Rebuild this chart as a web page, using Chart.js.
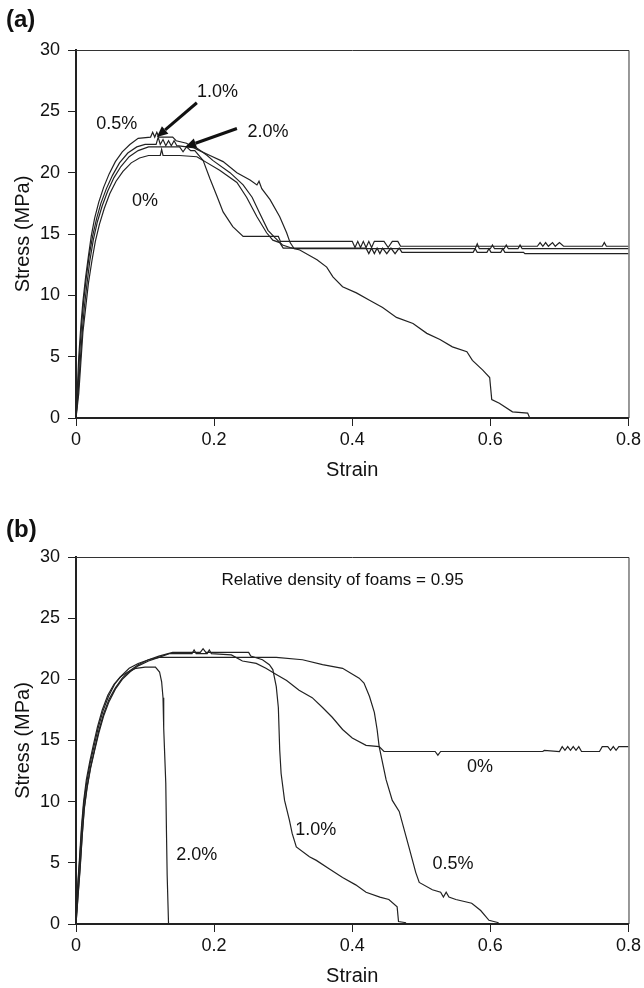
<!DOCTYPE html>
<html>
<head>
<meta charset="utf-8">
<script src="https://cdn.jsdelivr.net/npm/chart.js@4.4.1/dist/chart.umd.min.js"></script>
<style>
  html, body { margin: 0; padding: 0; background: #fff; }
  #page { position: relative; width: 644px; height: 988px; font-family: Arial, 'Liberation Sans', sans-serif; }
  .panel { position: absolute; left: 0; width: 644px; height: 494px; }
  .tag { position: absolute; left: 6px; font-weight: bold; font-size: 24px; line-height: 1; color: #111; }
</style>
</head>
<body>
<div id="page">
  <div class="panel" style="top:0"><canvas id="chartA"></canvas></div>
  <div class="panel" style="top:494px"><canvas id="chartB"></canvas></div>
  <div class="tag" style="top:7px">(a)</div>
  <div class="tag" style="top:517px">(b)</div>
</div>
<script>
// ===== DATA =====
const xTicks = [0, 0.2, 0.4, 0.6, 0.8];
const yTicks = [0, 5, 10, 15, 20, 25, 30];

// (a) [strain, stress MPa]
const a0 = [[0,0],[0.004,2.0],[0.007,4.5],[0.010,7.0],[0.014,9.0],[0.018,11.0],[0.023,12.8],[0.028,14.4],[0.034,15.8],[0.041,17.1],[0.049,18.3],[0.058,19.3],[0.068,20.1],[0.080,20.8],[0.092,21.2],[0.105,21.4],[0.122,21.4],[0.124,21.9],[0.126,21.4],[0.150,21.4],[0.175,21.3],[0.184,21.0],[0.194,19.5],[0.204,18.1],[0.213,16.8],[0.227,15.6],[0.242,14.8],[0.293,14.8],[0.296,14.4],[0.400,14.4],[0.404,13.9],[0.408,14.4],[0.412,13.9],[0.416,14.4],[0.420,13.9],[0.424,14.4],[0.428,13.9],[0.432,14.4],[0.446,14.4],[0.452,13.9],[0.458,14.4],[0.466,14.4],[0.470,14.0],[0.668,14.0],[0.672,14.3],[0.676,14.0],[0.680,14.3],[0.684,14.0],[0.690,14.3],[0.694,14.0],[0.700,14.3],[0.706,14.0],[0.762,14.0],[0.765,14.3],[0.768,14.0],[0.800,14.0]];
const a05 = [[0,0],[0.002,2.5],[0.004,5.0],[0.007,7.5],[0.010,9.5],[0.014,11.5],[0.018,13.2],[0.022,14.8],[0.027,16.3],[0.033,17.6],[0.040,18.8],[0.048,19.9],[0.057,20.9],[0.067,21.7],[0.078,22.3],[0.090,22.8],[0.108,22.9],[0.111,23.3],[0.114,22.9],[0.117,23.3],[0.120,22.9],[0.140,22.9],[0.145,22.6],[0.160,22.4],[0.175,21.9],[0.194,21.4],[0.213,20.9],[0.233,20.0],[0.252,19.4],[0.262,19.0],[0.265,19.3],[0.269,18.7],[0.281,17.8],[0.295,16.4],[0.305,15.1],[0.310,14.3],[0.316,13.8],[0.578,13.8],[0.581,14.2],[0.584,13.8],[0.600,13.8],[0.603,14.1],[0.606,13.8],[0.620,13.8],[0.623,14.1],[0.626,13.8],[0.640,13.8],[0.643,14.1],[0.646,13.8],[0.800,13.8]];
const a10 = [[0,0],[0.003,2.5],[0.005,5.0],[0.008,7.5],[0.011,9.5],[0.015,11.5],[0.019,13.2],[0.024,14.8],[0.030,16.3],[0.036,17.5],[0.044,18.7],[0.053,19.8],[0.063,20.8],[0.075,21.6],[0.088,22.1],[0.100,22.3],[0.116,22.3],[0.119,22.9],[0.122,22.3],[0.126,22.7],[0.130,22.2],[0.134,22.6],[0.138,22.2],[0.142,22.6],[0.146,22.2],[0.175,22.0],[0.190,21.4],[0.198,21.0],[0.223,20.0],[0.242,19.0],[0.255,18.0],[0.266,16.7],[0.278,15.3],[0.288,14.7],[0.299,14.1],[0.310,13.9],[0.324,13.7],[0.349,12.9],[0.363,12.3],[0.372,11.5],[0.386,10.7],[0.406,10.2],[0.425,9.6],[0.444,9.0],[0.464,8.2],[0.488,7.7],[0.508,6.9],[0.527,6.4],[0.545,5.8],[0.566,5.4],[0.574,4.7],[0.589,3.9],[0.599,3.3],[0.602,1.5],[0.613,1.2],[0.632,0.5],[0.654,0.4],[0.657,0]];
const a20 = [[0,0],[0.003,2.0],[0.006,4.5],[0.009,7.0],[0.012,9.0],[0.016,11.0],[0.020,12.8],[0.025,14.5],[0.031,16.0],[0.038,17.3],[0.046,18.5],[0.055,19.6],[0.065,20.5],[0.077,21.3],[0.090,21.8],[0.105,22.1],[0.150,22.1],[0.155,21.7],[0.160,22.1],[0.166,21.8],[0.172,21.8],[0.184,21.0],[0.208,20.2],[0.233,19.2],[0.247,18.0],[0.262,16.4],[0.276,15.1],[0.285,14.5],[0.295,14.3],[0.300,13.85],[0.420,13.85],[0.424,13.4],[0.428,13.85],[0.432,13.4],[0.436,13.85],[0.440,13.4],[0.444,13.85],[0.450,13.4],[0.456,13.85],[0.462,13.4],[0.468,13.85],[0.472,13.5],[0.575,13.5],[0.578,13.8],[0.581,13.5],[0.595,13.5],[0.598,13.8],[0.601,13.5],[0.615,13.5],[0.618,13.8],[0.621,13.5],[0.648,13.5],[0.650,13.4],[0.800,13.4]];

// (b) [strain, stress MPa]
const b0 = [[0,0],[0.003,2.3],[0.006,4.5],[0.009,7.2],[0.012,9.4],[0.016,11.1],[0.021,12.7],[0.027,14.2],[0.033,15.6],[0.040,17.0],[0.048,18.2],[0.057,19.2],[0.067,20.0],[0.078,20.6],[0.090,21.1],[0.105,21.5],[0.120,21.8],[0.135,22.1],[0.168,22.1],[0.171,22.4],[0.174,22.1],[0.190,22.1],[0.193,22.4],[0.196,22.1],[0.225,22.0],[0.241,21.5],[0.261,21.3],[0.275,20.9],[0.290,20.4],[0.305,19.9],[0.323,19.1],[0.342,18.5],[0.357,17.7],[0.371,16.9],[0.386,15.9],[0.400,15.2],[0.420,14.6],[0.439,14.5],[0.446,14.1],[0.520,14.1],[0.524,13.8],[0.528,14.1],[0.676,14.1],[0.678,14.2],[0.700,14.1],[0.704,14.5],[0.708,14.2],[0.712,14.5],[0.716,14.2],[0.720,14.5],[0.724,14.2],[0.728,14.5],[0.732,14.1],[0.758,14.1],[0.762,14.5],[0.770,14.5],[0.774,14.2],[0.778,14.5],[0.782,14.2],[0.786,14.5],[0.800,14.5]];
const b05 = [[0,0],[0.002,2.6],[0.005,5.0],[0.008,7.6],[0.011,9.7],[0.015,11.4],[0.020,13.0],[0.026,14.5],[0.032,16.0],[0.039,17.4],[0.047,18.6],[0.056,19.6],[0.066,20.3],[0.077,20.9],[0.090,21.3],[0.105,21.6],[0.120,21.8],[0.290,21.8],[0.328,21.6],[0.357,21.2],[0.386,20.9],[0.410,20.1],[0.417,19.7],[0.425,18.6],[0.432,17.3],[0.436,15.9],[0.439,14.5],[0.449,11.8],[0.458,10.1],[0.468,9.2],[0.482,6.3],[0.492,4.2],[0.497,3.4],[0.516,2.8],[0.528,2.6],[0.532,2.2],[0.536,2.6],[0.540,2.2],[0.550,2.0],[0.573,1.7],[0.586,1.1],[0.598,0.3],[0.612,0.1]];
const b10 = [[0,0],[0.003,2.4],[0.006,4.7],[0.009,7.3],[0.012,9.5],[0.016,11.2],[0.021,12.8],[0.027,14.3],[0.033,15.8],[0.040,17.2],[0.048,18.4],[0.057,19.3],[0.067,20.1],[0.078,20.7],[0.090,21.2],[0.105,21.6],[0.120,21.9],[0.140,22.2],[0.180,22.2],[0.184,22.5],[0.188,22.2],[0.250,22.2],[0.253,21.9],[0.270,21.6],[0.280,21.2],[0.285,20.8],[0.290,19.4],[0.293,17.7],[0.295,14.2],[0.297,12.3],[0.302,10.1],[0.309,8.5],[0.313,7.4],[0.319,6.3],[0.338,5.5],[0.348,5.2],[0.367,4.5],[0.386,3.8],[0.405,3.2],[0.420,2.6],[0.440,2.2],[0.453,2.0],[0.465,1.4],[0.467,0.2],[0.478,0.1]];
const b20 = [[0,0],[0.002,2.8],[0.005,5.3],[0.008,8.0],[0.011,10.0],[0.015,11.8],[0.020,13.3],[0.025,14.6],[0.031,16.1],[0.038,17.5],[0.046,18.7],[0.055,19.6],[0.064,20.2],[0.075,20.6],[0.087,20.9],[0.100,21.0],[0.115,21.0],[0.121,20.6],[0.124,19.8],[0.126,18.5],[0.127,16.0],[0.128,14.5],[0.130,11.5],[0.131,7.5],[0.132,4.0],[0.134,0]];

// ===== ANNOTATIONS =====
const notesA = {
  labels: [
    { text: '0.5%', x: 0.059, y: 24.0 },
    { text: '1.0%', x: 0.205, y: 26.6 },
    { text: '2.0%', x: 0.278, y: 23.3 },
    { text: '0%', x: 0.100, y: 17.7 },
  ],
  arrows: [
    { from: [0.175, 25.7], to: [0.117, 22.9] },
    { from: [0.233, 23.6], to: [0.158, 22.1] },
  ],
};
const notesB = {
  labels: [
    { text: 'Relative density of foams = 0.95', x: 0.386, y: 28.1, size: 17 },
    { text: '0%', x: 0.585, y: 12.8 },
    { text: '1.0%', x: 0.347, y: 7.7 },
    { text: '0.5%', x: 0.546, y: 4.9 },
    { text: '2.0%', x: 0.175, y: 5.6 },
  ],
  arrows: [],
};

const FONT = "Arial, 'Liberation Sans', sans-serif";
Chart.defaults.font.family = FONT;
Chart.defaults.color = '#111';

// ===== PLUGINS =====
const framePlugin = {
  id: 'frame',
  afterDraw(chart) {
    const { ctx, chartArea: a } = chart;
    ctx.save();
    ctx.strokeStyle = '#333';
    ctx.lineWidth = 1;
    ctx.beginPath();
    ctx.moveTo(a.left, a.top + 0.5);
    ctx.lineTo(a.right + 0.5, a.top + 0.5);
    ctx.lineTo(a.right + 0.5, a.bottom);
    ctx.stroke();
    ctx.restore();
  }
};

const notesPlugin = {
  id: 'notes',
  afterDatasetsDraw(chart, args, opts) {
    const { ctx, scales: { x, y } } = chart;
    ctx.save();
    (opts.arrows || []).forEach(ar => {
      const x0 = x.getPixelForValue(ar.from[0]), y0 = y.getPixelForValue(ar.from[1]);
      const x1 = x.getPixelForValue(ar.to[0]), y1 = y.getPixelForValue(ar.to[1]);
      const ang = Math.atan2(y1 - y0, x1 - x0);
      const head = 11, half = 5;
      const bx = x1 - head * Math.cos(ang), by = y1 - head * Math.sin(ang);
      ctx.strokeStyle = '#111';
      ctx.lineWidth = 3;
      ctx.beginPath(); ctx.moveTo(x0, y0); ctx.lineTo(bx, by); ctx.stroke();
      ctx.fillStyle = '#111';
      ctx.beginPath();
      ctx.moveTo(x1, y1);
      ctx.lineTo(bx + half * Math.sin(ang), by - half * Math.cos(ang));
      ctx.lineTo(bx - half * Math.sin(ang), by + half * Math.cos(ang));
      ctx.closePath();
      ctx.fill();
    });
    ctx.fillStyle = '#111';
    ctx.textAlign = 'center';
    ctx.textBaseline = 'middle';
    (opts.labels || []).forEach(l => {
      ctx.font = (l.size || 18) + 'px ' + FONT;
      ctx.fillText(l.text, x.getPixelForValue(l.x), y.getPixelForValue(l.y));
    });
    ctx.restore();
  }
};

// ===== CHART BUILDER =====
function series(pts) {
  return {
    data: pts.map(p => ({ x: p[0], y: p[1] })),
    borderColor: '#222',
    borderWidth: 1.2,
    pointRadius: 0,
    fill: false,
    tension: 0,
  };
}

function makeChart(id, list, notes, padTop, padRight, xHeight, titleBottom) {
  return new Chart(document.getElementById(id), {
    type: 'line',
    data: { datasets: list.map(series) },
    options: {
      responsive: true,
      maintainAspectRatio: false,
      animation: false,
      layout: { padding: { top: padTop, right: padRight, left: 0, bottom: 0 } },
      plugins: { legend: { display: false }, tooltip: { enabled: false }, notes: notes },
      scales: {
        x: {
          type: 'linear', min: 0, max: 0.8,
          afterBuildTicks: s => { s.ticks = xTicks.map(v => ({ value: v })); },
          afterFit: s => { s.height = xHeight; },
          ticks: { font: { size: 18 }, color: '#111', padding: 3, maxRotation: 0, callback: v => String(v) },
          grid: { drawOnChartArea: false, drawTicks: true, tickLength: 8, color: '#222', lineWidth: 1 },
          border: { display: true, width: 2, color: '#222' },
          title: { display: true, text: 'Strain', font: { size: 20 }, color: '#111', padding: { top: 0, bottom: titleBottom } },
        },
        y: {
          type: 'linear', min: 0, max: 30,
          afterBuildTicks: s => { s.ticks = yTicks.map(v => ({ value: v })); },
          afterFit: s => { s.width = 76; },
          ticks: { font: { size: 18 }, color: '#111', padding: 8, callback: v => String(v) },
          grid: { drawOnChartArea: false, drawTicks: true, tickLength: 8, color: '#222', lineWidth: 1 },
          border: { display: true, width: 2, color: '#222' },
          title: { display: true, text: 'Stress (MPa)', font: { size: 20 }, color: '#111', padding: { top: 11, bottom: 0 } },
        }
      }
    },
    plugins: [framePlugin, notesPlugin]
  });
}

makeChart('chartA', [a0, a05, a10, a20], notesA, 50, 15, 76, 12);
makeChart('chartB', [b0, b05, b10, b20], notesB, 63, 14, 64, 0);
</script>
</body>
</html>
